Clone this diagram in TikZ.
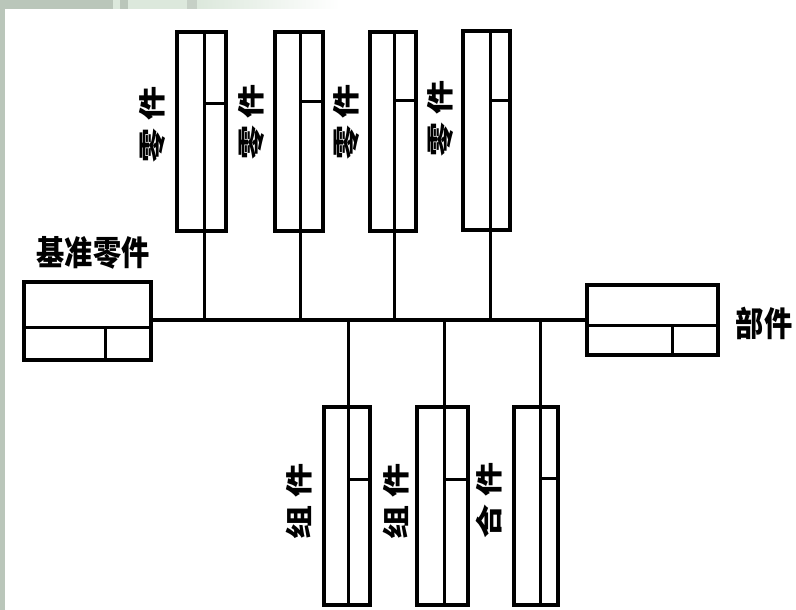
\documentclass[tikz,border=0pt]{standalone}
\usepackage{graphicx}
\usepackage{fontspec}
\usetikzlibrary{calc}
\newfontfamily\cjk{Noto Sans CJK SC}
\definecolor{bandcol}{HTML}{BAC6BA}
\definecolor{bandlight}{HTML}{DCE8DC}
\definecolor{bandmid}{HTML}{C6D0C6}
\tikzset{
  unit/.style={draw, line width=4pt, inner sep=0pt, outer sep=0pt},
  div/.style={line width=3pt},
  link/.style={line width=3pt},
  busline/.style={line width=4.5pt},
  lbl/.style={font=\cjk\bfseries\fontsize{34}{34}\selectfont, inner sep=0pt},
}
\begin{document}
\begin{tikzpicture}[x=1pt,y=-1pt]
\useasboundingbox (0,0) rectangle (796,610);
% background frame
\fill[white] (0,0) rectangle (796,610);
\fill[bandcol] (0,0) rectangle (5,610);
\fill[bandcol] (0,0) rectangle (113,9);
\fill[bandlight] (113,0) rectangle (120,9);
\fill[bandcol] (120,0) rectangle (128,9);
\fill[bandlight] (128,0) rectangle (187,9);
\fill[bandmid] (187,0) rectangle (197,9);
\shade[left color=bandlight, right color=white] (197,0) rectangle (340,9);

% top parts
\node[unit, minimum width=49pt, minimum height=199pt] (z1) at (201.5,131.5) {};
\node[unit, minimum width=48pt, minimum height=199pt] (z2) at (299,131.5) {};
\node[unit, minimum width=46pt, minimum height=199pt] (z3) at (393,131.5) {};
\node[unit, minimum width=47pt, minimum height=199pt] (z4) at (486.5,130.5) {};
% base part and assembly
\node[unit, minimum width=127pt, minimum height=78pt] (base) at (87.5,321) {};
\node[unit, minimum width=131pt, minimum height=70pt] (part) at (652.5,320) {};
% bottom units
\node[unit, minimum width=46pt, minimum height=198pt] (b1) at (346.5,506) {};
\node[unit, minimum width=51pt, minimum height=198pt] (b2) at (442,506) {};
\node[unit, minimum width=44pt, minimum height=198pt] (b3) at (535.5,506) {};

% junction points on the bus
\coordinate (j1) at (204,320);
\coordinate (j2) at (300,320);
\coordinate (j3) at (394,320);
\coordinate (j4) at (490,320);
\coordinate (j5) at (348,320);
\coordinate (j6) at (444,320);
\coordinate (j7) at (540,320);

% inner dividers of top parts
\draw[div] (z1.north -| j1) -- (z1.south -| j1);
\draw[div] ($(z1.north -| j1)+(0,72)$) -- ($(z1.north east)+(0,72)$);
\draw[div] (z2.north -| j2) -- (z2.south -| j2);
\draw[div] ($(z2.north -| j2)+(0,70)$) -- ($(z2.north east)+(0,70)$);
\draw[div] (z3.north -| j3) -- (z3.south -| j3);
\draw[div] ($(z3.north -| j3)+(0,69)$) -- ($(z3.north east)+(0,69)$);
\draw[div] (z4.north -| j4) -- (z4.south -| j4);
\draw[div] ($(z4.north -| j4)+(0,70)$) -- ($(z4.north east)+(0,70)$);
% dividers of base and assembly
\draw[div] ($(base.north west)+(0,45)$) -- ($(base.north east)+(0,45)$);
\draw[div] ($(base.north west)+(81,45)$) -- ($(base.south west)+(81,0)$);
\draw[div] ($(part.north west)+(0,40)$) -- ($(part.north east)+(0,40)$);
\draw[div] ($(part.north west)+(85,40)$) -- ($(part.south west)+(85,0)$);
% dividers of bottom units
\draw[div] (b1.north -| j5) -- (b1.south -| j5);
\draw[div] ($(b1.north -| j5)+(0,72)$) -- ($(b1.north east)+(0,72)$);
\draw[div] (b2.north -| j6) -- (b2.south -| j6);
\draw[div] ($(b2.north -| j6)+(0,72)$) -- ($(b2.north east)+(0,72)$);
\draw[div] (b3.north -| j7) -- (b3.south -| j7);
\draw[div] ($(b3.north -| j7)+(0,71)$) -- ($(b3.north east)+(0,71)$);

% bus
\draw[busline] (base.east |- part.west) -- (part.west);
% connectors
\draw[link] (z1.south -| j1) -- (j1);
\draw[link] (z2.south -| j2) -- (j2);
\draw[link] (z3.south -| j3) -- (j3);
\draw[link] (z4.south -| j4) -- (j4);
\draw[link] (j5) -- (b1.north -| j5);
\draw[link] (j6) -- (b2.north -| j6);
\draw[link] (j7) -- (b3.north -| j7);

% labels
\node[lbl] (lb) at (93,253) {\scalebox{0.83}[1]{基准零件}};
\node[lbl] (lp) at (764,323) {\scalebox{0.83}[1]{部件}};
\node[lbl] (l1) at (152,124) {\scalebox{0.8}[1]{\rotatebox{90}{零\hspace{8pt}件}}};
\node[lbl] (l2) at (251,122) {\scalebox{0.8}[1]{\rotatebox{90}{零\hspace{8pt}件}}};
\node[lbl] (l3) at (346,122) {\scalebox{0.8}[1]{\rotatebox{90}{零\hspace{8pt}件}}};
\node[lbl] (l4) at (440,118) {\scalebox{0.8}[1]{\rotatebox{90}{零\hspace{8pt}件}}};
\node[lbl] (l5) at (299,501) {\scalebox{0.8}[1]{\rotatebox{90}{组\hspace{8pt}件}}};
\node[lbl] (l6) at (396,501) {\scalebox{0.8}[1]{\rotatebox{90}{组\hspace{8pt}件}}};
\node[lbl] (l7) at (489,500) {\scalebox{0.8}[1]{\rotatebox{90}{合\hspace{8pt}件}}};
\end{tikzpicture}
\end{document}
